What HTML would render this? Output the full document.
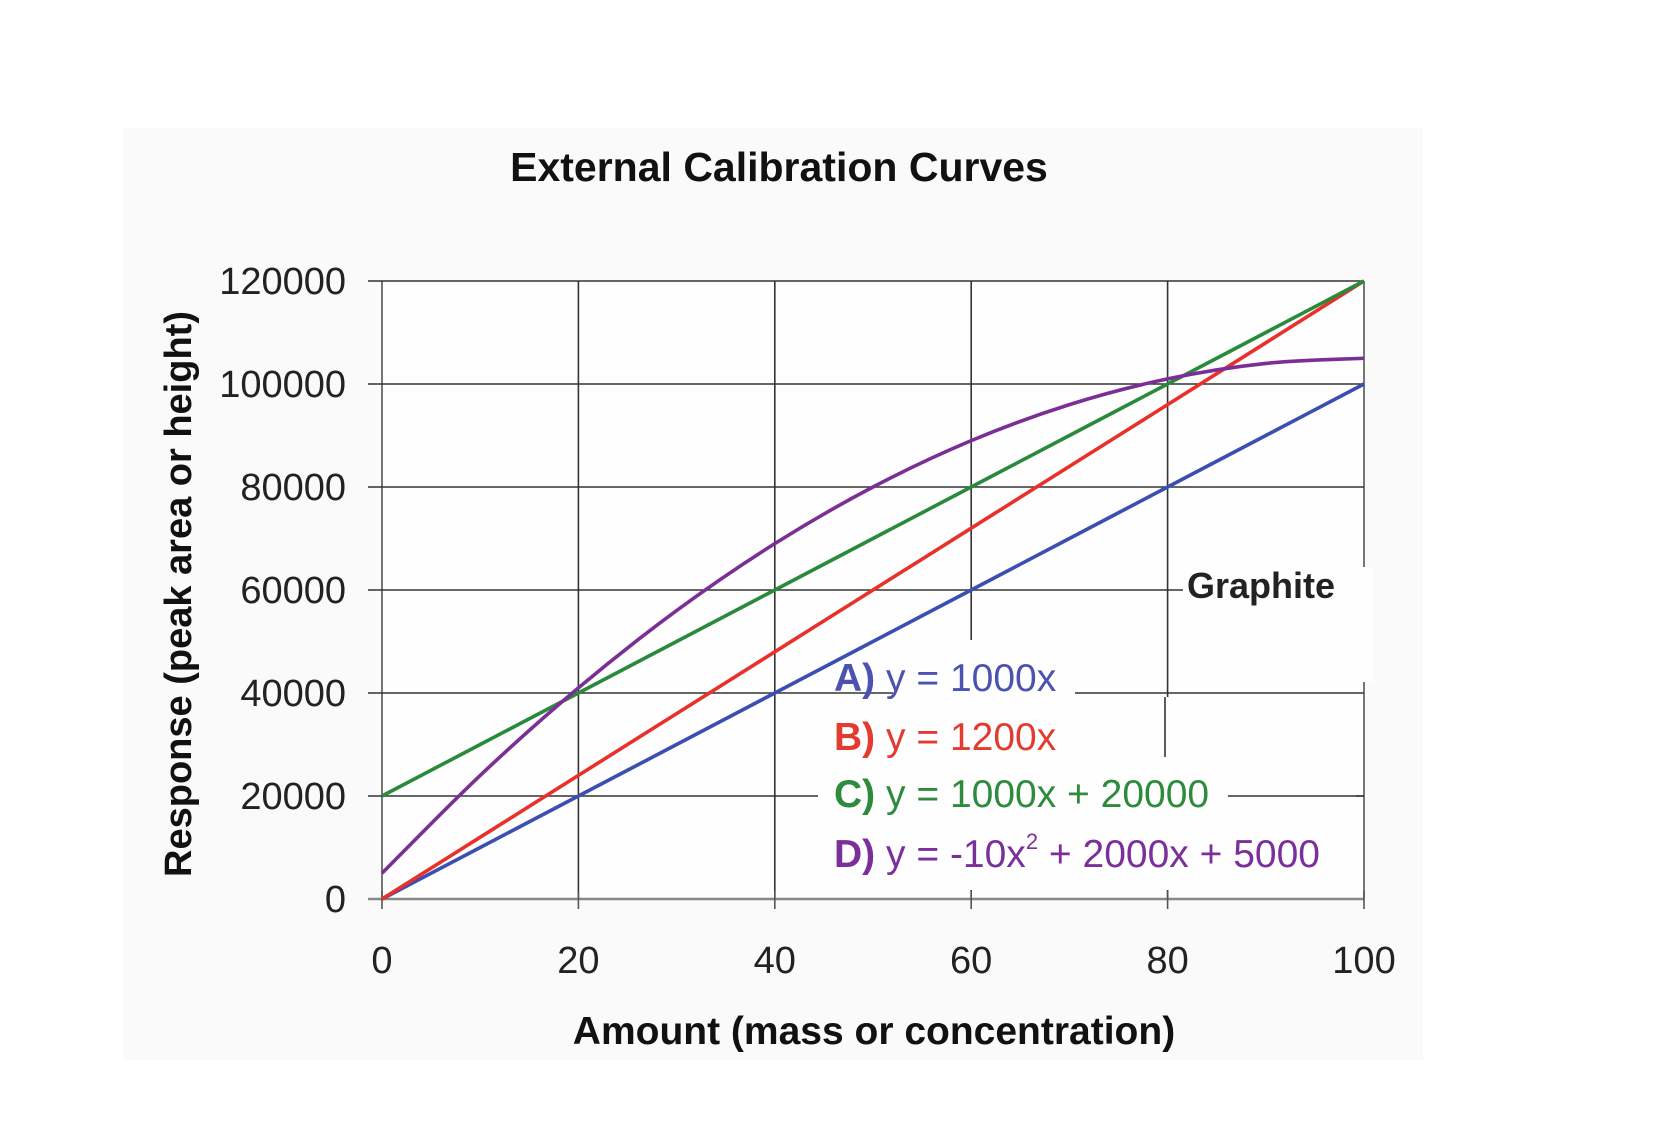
<!DOCTYPE html>
<html><head><meta charset="utf-8"><style>
html,body{margin:0;padding:0;background:#fff;}
svg{display:block;font-family:"Liberation Sans",Arial,sans-serif;}
</style></head><body>
<svg width="1670" height="1136" viewBox="0 0 1670 1136">
<rect x="123" y="128" width="1300" height="932" fill="#fafafa"/>
<rect x="382" y="281" width="982" height="618" fill="#fefefe"/>
<text x="779" y="181" text-anchor="middle" font-size="41" font-weight="bold" fill="#111">External Calibration Curves</text>
<g id="grid"></g>
<g id="masks">
<rect x="1183" y="567" width="190" height="115" fill="#fefefe"/>
<rect x="893" y="640" width="182" height="57" fill="#fefefe"/>
<rect x="818" y="697" width="538" height="193" fill="#fefefe"/>
<line x1="1165" y1="697" x2="1165" y2="757" stroke="#333" stroke-width="1.6"/>
<line x1="1228" y1="796" x2="1364" y2="796" stroke="#333" stroke-width="1.6"/>
</g>
<g id="ticks"></g>
<g id="series"></g>
<text x="1187" y="598" font-size="36" font-weight="bold" fill="#222">Graphite</text>
<g font-size="39">
<text x="834" y="691" fill="#4b52b0"><tspan font-weight="bold">A)</tspan>  y = 1000x</text>
<text x="834" y="750" fill="#e23b30"><tspan font-weight="bold">B)</tspan> y = 1200x</text>
<text x="834" y="807" fill="#2e8b3e"><tspan font-weight="bold">C)</tspan>  y = 1000x + 20000</text>
<text x="834" y="867" fill="#7a2f9a"><tspan font-weight="bold">D)</tspan> y = -10x<tspan font-size="22" dy="-18">2</tspan><tspan dy="18"> + 2000x + 5000</tspan></text>
</g>
<text x="874" y="1044" text-anchor="middle" font-size="39" font-weight="bold" fill="#111">Amount (mass or concentration)</text>
<text transform="translate(191,594) rotate(-90)" text-anchor="middle" font-size="38" font-weight="bold" fill="#111">Response (peak area or height)</text>
</svg>
<script>
const xTicks = [0, 20, 40, 60, 80, 100];
const yTicks = [0, 20000, 40000, 60000, 80000, 100000, 120000];
const xValues = [0, 10, 20, 30, 40, 50, 60, 70, 80, 90, 100];
const seriesA = [0, 10000, 20000, 30000, 40000, 50000, 60000, 70000, 80000, 90000, 100000];
const seriesB = [0, 12000, 24000, 36000, 48000, 60000, 72000, 84000, 96000, 108000, 120000];
const seriesC = [20000, 30000, 40000, 50000, 60000, 70000, 80000, 90000, 100000, 110000, 120000];
const seriesD = [5000, 24000, 41000, 56000, 69000, 80000, 89000, 96000, 101000, 104000, 105000];

const L=382,R=1364,T=281,B=899;
const sx=v=>L+(v-0)/(100-0)*(R-L);
const sy=v=>B-(v-0)/(120000-0)*(B-T);
const NS='http://www.w3.org/2000/svg';
function mk(tag,attrs,parent){const e=document.createElementNS(NS,tag);for(const k in attrs)e.setAttribute(k,attrs[k]);parent.appendChild(e);return e;}
const grid=document.getElementById('grid'),ticks=document.getElementById('ticks'),series=document.getElementById('series');
xTicks.forEach(t=>{
  const l=mk('line',{x1:sx(t),x2:sx(t),y1:T,y2:B,stroke:t===0||t===100?'#555':'#333','stroke-width':1.6},grid);
  
  
  const tk=mk('line',{x1:sx(t),x2:sx(t),y1:B-8,y2:B+10,stroke:'#555','stroke-width':1.6},ticks);
  
  
  const tx=mk('text',{x:sx(t),y:973,'text-anchor':'middle','font-size':38,fill:'#222'},ticks);
  tx.textContent=t;
  
  
});
yTicks.forEach(t=>{
  const l=mk('line',{x1:L-14,x2:R,y1:sy(t),y2:sy(t),stroke:t===0?'#888':'#333','stroke-width':t===0?2.5:1.6},grid);
  
  
  const tx=mk('text',{x:346,y:sy(t)+13,'text-anchor':'end','font-size':38,fill:'#222'},ticks);
  tx.textContent=t;
  
  
});
function pathFor(vals){
  const p=xValues.map((x,i)=>[sx(x),sy(vals[i])]);
  let d='M'+p[0][0]+','+p[0][1];
  for(let i=0;i<p.length-1;i++){
    const p0=p[Math.max(i-1,0)],p1=p[i],p2=p[i+1],p3=p[Math.min(i+2,p.length-1)];
    const c1=[p1[0]+(p2[0]-p0[0])/6,p1[1]+(p2[1]-p0[1])/6];
    const c2=[p2[0]-(p3[0]-p1[0])/6,p2[1]-(p3[1]-p1[1])/6];
    d+=' C'+c1[0]+','+c1[1]+' '+c2[0]+','+c2[1]+' '+p2[0]+','+p2[1];
  }
  return d;
}
[[seriesA,'#3b4fb2','series-a-line'],[seriesB,'#e8312a','series-b-line'],[seriesC,'#2a8a3c','series-c-line'],[seriesD,'#7b2f96','series-d-line']].forEach(([v,c,n])=>{
  const p=mk('path',{d:pathFor(v),fill:'none',stroke:c,'stroke-width':3.6},series);
  
  
});
</script>
</body></html>
